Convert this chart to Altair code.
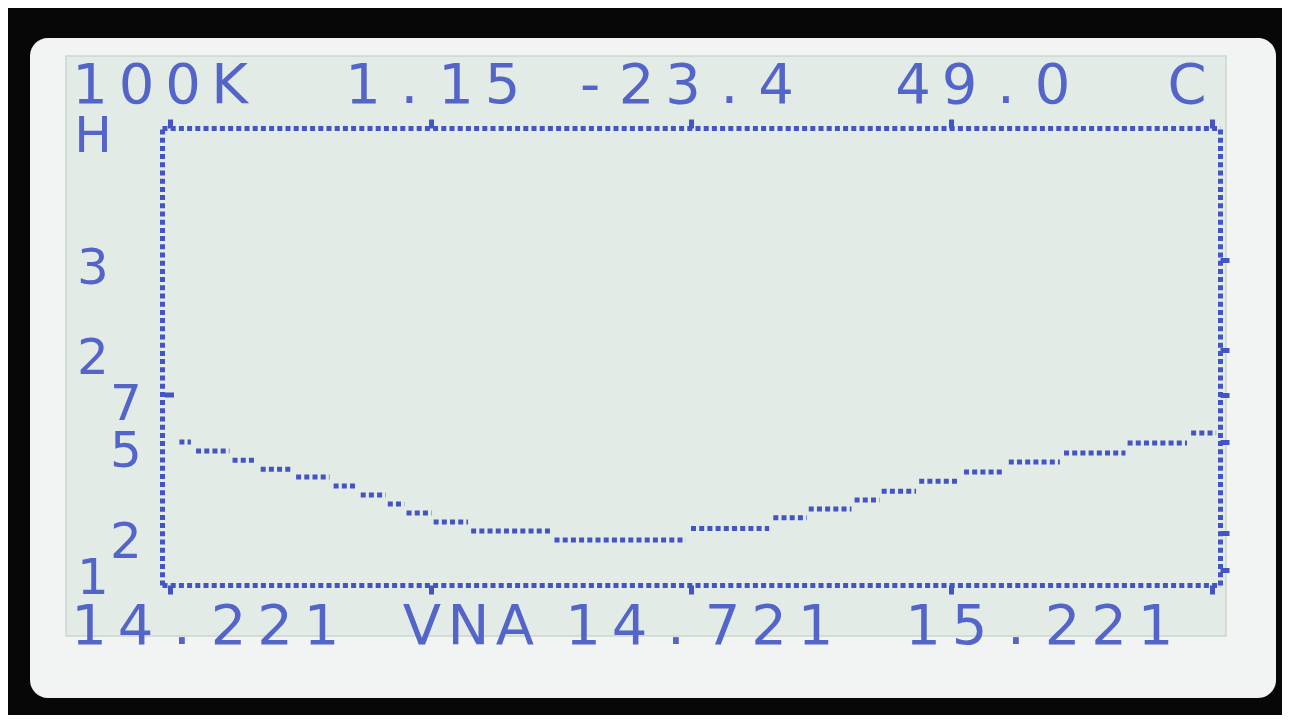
import altair as alt
import pandas as pd

# ---------------- data ----------------
# frequency axis (MHz) and SWR axis
freq_ticks = [14.221, 14.471, 14.721, 14.971, 15.221]
swr_ticks = [1.0, 1.2, 1.5, 1.7, 2.0, 3.0]

# stair-step SWR trace (one LCD dot row per step)
seg_start = [14.230, 14.246, 14.281, 14.308, 14.342, 14.378, 14.404, 14.430,
             14.448, 14.474, 14.510, 14.590, 14.721, 14.800, 14.834, 14.878,
             14.904, 14.940, 14.983, 15.026, 15.079, 15.140, 15.201]
seg_end = [14.241, 14.278, 14.304, 14.339, 14.374, 14.400, 14.428, 14.446,
           14.472, 14.507, 14.586, 14.716, 14.796, 14.832, 14.875, 14.902,
           14.937, 14.979, 15.022, 15.075, 15.138, 15.197, 15.225]
seg_swr = [1.500, 1.470, 1.440, 1.410, 1.385, 1.355, 1.325, 1.296,
           1.266, 1.236, 1.207, 1.162, 1.215, 1.250, 1.279, 1.309,
           1.338, 1.371, 1.401, 1.434, 1.464, 1.497, 1.538]

# LCD text
top_fields = ["100K", "1.15", "-23.4", "49.0", "C"]
bottom_fields = ["14.221", "VNA", "14.721", "15.221"]
left_labels_a = ["H", "3", "2", "1"]
left_swr_a = [10.0, 3.0, 2.0, 1.0]
left_labels_b = ["7", "5", "2"]
left_swr_b = [1.7, 1.5, 1.2]
left_inner_tick = [1.7]

# ---------------- layout / style ----------------
W, H = 1058, 457
X0, Y0 = 162, 128            # page position of plot origin
PITCH = 46.5                 # LCD character pitch
top_first = [90, 363, 590, 913, 1187]
bottom_first = [89, 422, 583, 923]
TOP_BASE, BOT_BASE = 103, 644

DOT = "#4454c2"
TXT = "#5365c8"
LCD = "#e3ebe6"
BEZEL = "#f2f4f3"
FONT = "DejaVu Sans"
FS = 56
FS_LEFT = 50

x_scale = alt.Scale(domain=[14.2133, 15.2287], nice=False, zero=False)
y_scale = alt.Scale(domain=[0.94, 1.0, 1.2, 1.5, 1.7, 2.0, 3.0, 10.0],
                    range=[457, 442, 405, 314, 267, 222, 132, 0],
                    nice=False, zero=False)

dash = [5, 3.2]


def axis(orient, values=None, ticks=True):
    kw = dict(orient=orient, labels=False, title=None, grid=False,
              domainColor=DOT, domainWidth=5, domainDash=dash,
              ticks=ticks, tickColor=DOT, tickWidth=5, tickSize=9, zindex=2)
    if values is not None:
        kw["values"] = values
    return alt.Axis(**kw)


segs = pd.DataFrame({"f0": seg_start, "f1": seg_end, "swr": seg_swr})
one = pd.DataFrame({"k": [0]})

bezel = alt.Chart(one).mark_rect(color=BEZEL, cornerRadius=18).encode(
    x=alt.value(30 - X0), x2=alt.value(1276 - X0),
    y=alt.value(38 - Y0), y2=alt.value(698 - Y0))

lcd = alt.Chart(one).mark_rect(color=LCD, stroke="#cdd6cd", strokeWidth=1.5).encode(
    x=alt.value(66 - X0), x2=alt.value(1226 - X0),
    y=alt.value(56 - Y0), y2=alt.value(636 - Y0))

trace = alt.Chart(segs).mark_rule(color=DOT, strokeWidth=5, strokeDash=dash).encode(
    x=alt.X("f0:Q", scale=x_scale, axis=axis("bottom", freq_ticks)),
    x2="f1:Q",
    y=alt.Y("swr:Q", scale=y_scale, axis=axis("left", ticks=False)),
)

frame2 = alt.Chart(segs).mark_rule(opacity=0).encode(
    x=alt.X("f0:Q", scale=x_scale, axis=axis("top", freq_ticks)),
    x2="f1:Q",
    y=alt.Y("swr:Q", scale=y_scale, axis=axis("right", swr_ticks)),
)

inner_tick = alt.Chart(pd.DataFrame({"swr": left_inner_tick})).mark_rule(
    color=DOT, strokeWidth=5).encode(
    x=alt.value(3), x2=alt.value(12),
    y=alt.Y("swr:Q", scale=y_scale))

lab_a = alt.Chart(pd.DataFrame({"t": left_labels_a, "swr": left_swr_a})).mark_text(
    font=FONT, fontSize=FS_LEFT, color=TXT, align="center", baseline="alphabetic", dy=24).encode(
    x=alt.value(93 - X0), y=alt.Y("swr:Q", scale=y_scale), text="t:N")

lab_b = alt.Chart(pd.DataFrame({"t": left_labels_b, "swr": left_swr_b})).mark_text(
    font=FONT, fontSize=FS_LEFT, color=TXT, align="center", baseline="alphabetic", dy=25).encode(
    x=alt.value(126 - X0), y=alt.Y("swr:Q", scale=y_scale), text="t:N")


def char_rows(fields, firsts, base):
    rows = []
    for s, c0 in zip(fields, firsts):
        for i, ch in enumerate(s):
            rows.append({"ch": ch, "px": c0 + i * PITCH - X0, "py": base - Y0})
    return rows


chars = pd.DataFrame(char_rows(top_fields, top_first, TOP_BASE)
                     + char_rows(bottom_fields, bottom_first, BOT_BASE))

lcd_text = alt.Chart(chars).mark_text(
    font=FONT, fontSize=FS, color=TXT, align="center", baseline="alphabetic").encode(
    x=alt.X("px:Q", scale=None, axis=None),
    y=alt.Y("py:Q", scale=None, axis=None),
    text="ch:N")

chart = alt.layer(bezel, lcd, trace, frame2, inner_tick, lab_a, lab_b, lcd_text).properties(
    width=W, height=H,
    autosize=alt.AutoSizeParams(type="none"),
    padding={"left": X0 - 8, "top": Y0 - 8, "right": 62, "bottom": 130},
    background="#070707",
).configure_view(strokeWidth=0)

chart.save("out.html", embed_options={"renderer": "svg", "actions": False})
